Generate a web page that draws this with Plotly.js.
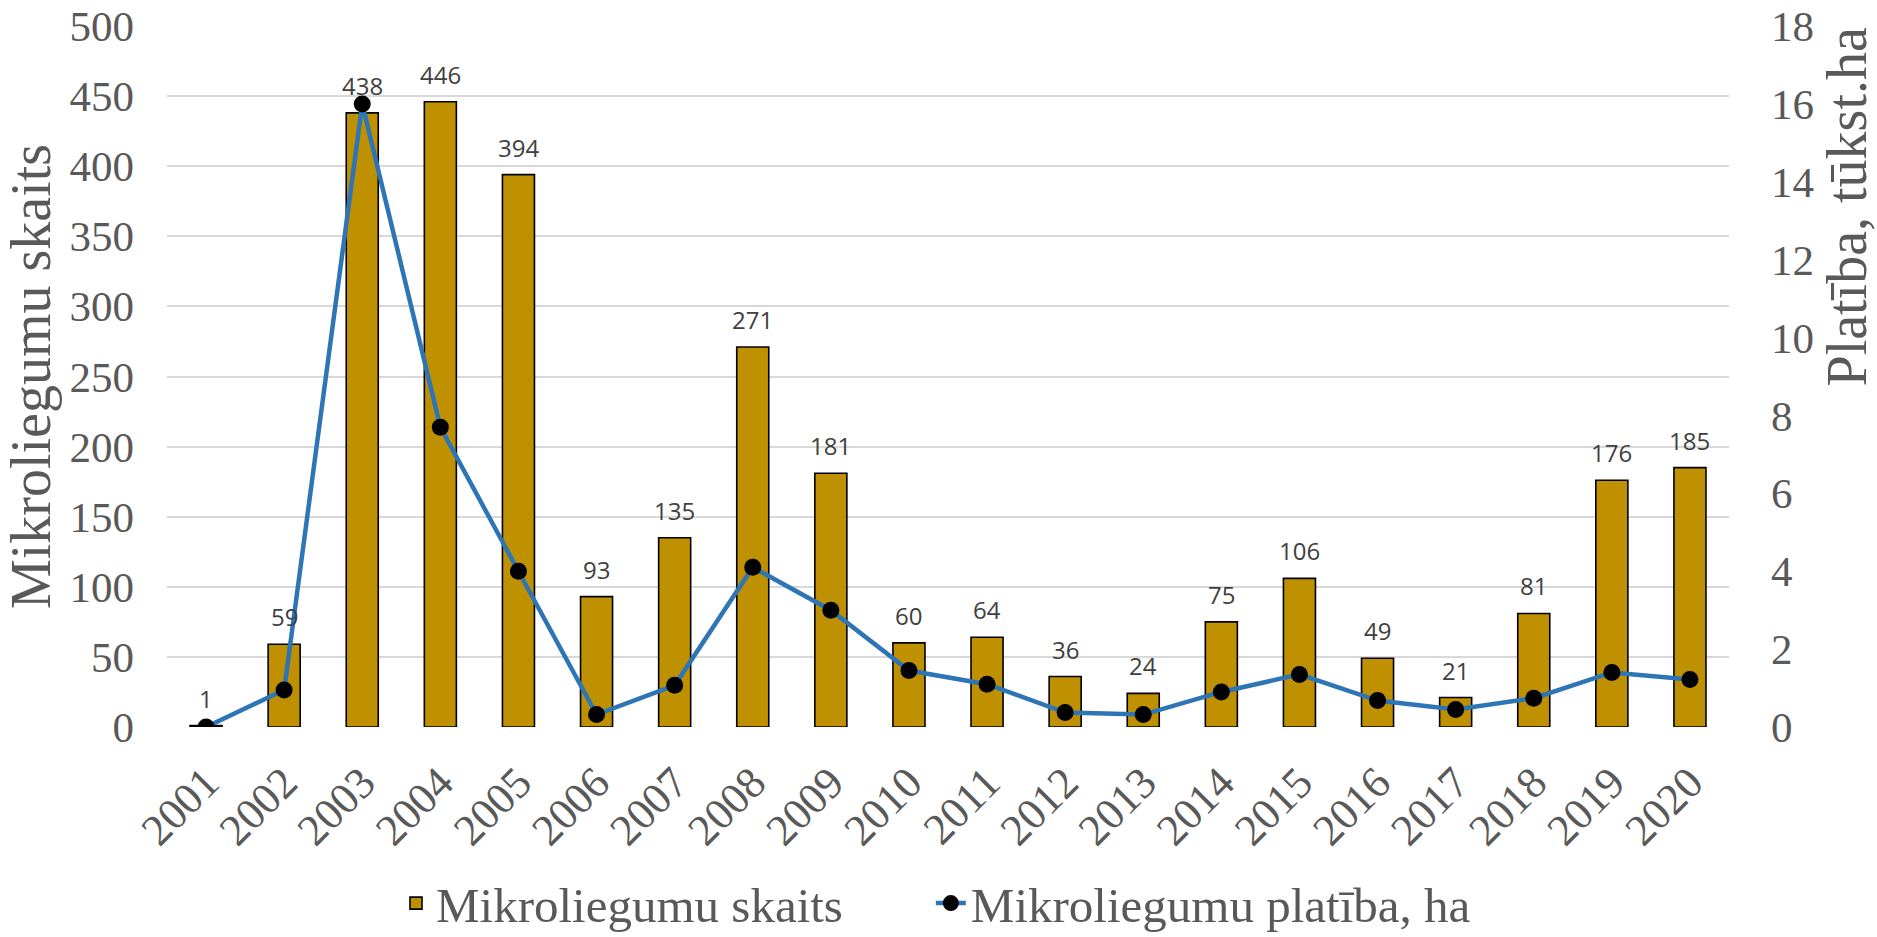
<!DOCTYPE html>
<html>
<head>
<meta charset="utf-8">
<script src="https://cdn.plot.ly/plotly-3.0.1.min.js"></script>
<style>
html,body{margin:0;padding:0;background:#fff;}
#chart{width:1877px;height:937px;}
</style>
</head>
<body>
<div id="chart"></div>
<script>
const years = ["2001","2002","2003","2004","2005","2006","2007","2008","2009","2010","2011","2012","2013","2014","2015","2016","2017","2018","2019","2020"];
const counts = [1,59,438,446,394,93,135,271,181,60,64,36,24,75,106,49,21,81,176,185];
const areas = [0.0,0.95,16.0,7.7,4.0,0.32,1.07,4.1,3.0,1.45,1.1,0.37,0.32,0.9,1.35,0.68,0.45,0.74,1.4,1.22];

const seriesNames = ["Mikroliegumu skaits","Mikroliegumu platība, ha"];
const leftTitle = "Mikroliegumu skaits";
const rightTitle = "Platība, tūkst.ha";

const serif = "Liberation Serif, Times New Roman, serif";
const gray = "#595959";

const traces = [
  {
    type: "bar",
    name: seriesNames[0],
    x: years,
    y: counts,
    width: 0.41,
    marker: {color: "#BF9000", line: {color: "#000000", width: 1.6}},
    yaxis: "y",
    legend: "legend",
    hoverinfo: "x+y"
  },
  {
    type: "scatter",
    mode: "lines+markers",
    name: seriesNames[1],
    x: years,
    y: areas,
    yaxis: "y2",
    legend: "legend2",
    line: {color: "#2E75B6", width: 4.5},
    marker: {color: "#000000", size: 17},
    hoverinfo: "x+y"
  }
];

const labelAnnotations = years.map((yr, i) => ({
  x: i, y: counts[i], xref: "x", yref: "y",
  text: String(counts[i]), showarrow: false,
  yanchor: "bottom", yshift: 9,
  font: {family: "Open Sans, sans-serif", size: 24, color: "#404040"}
}));

const legendFont = {family: serif, size: 49, color: gray};

const layout = {
  width: 1877, height: 937,
  paper_bgcolor: "#ffffff", plot_bgcolor: "#ffffff",
  margin: {l: 167, r: 148, t: 26, b: 210},
  showlegend: true,
  xaxis: {
    type: "category",
    range: [-0.5, years.length - 0.5],
    autorange: false,
    automargin: false,
    tickangle: -45,
    tickfont: {family: serif, size: 44, color: gray},
    ticks: "",
    showgrid: false,
    showline: false,
    zeroline: false,
    ticklabelstandoff: 20
  },
  yaxis: {
    range: [0, 500],
    dtick: 50,
    automargin: false,
    tickfont: {family: serif, size: 43, color: gray},
    showgrid: true,
    gridcolor: "#D9D9D9",
    gridwidth: 1.5,
    zeroline: false,
    showline: false,
    ticks: "",
    ticklabelstandoff: 32,
    title: {text: leftTitle, font: {family: serif, size: 56, color: gray}, standoff: 6}
  },
  yaxis2: {
    range: [0, 18],
    dtick: 2,
    overlaying: "y",
    side: "right",
    automargin: false,
    tickfont: {family: serif, size: 43, color: gray},
    showgrid: false,
    zeroline: false,
    showline: false,
    ticks: "",
    ticklabelstandoff: 41
  },
  legend: {
    orientation: "h",
    xref: "paper", x: 0.1466, xanchor: "left",
    yref: "container", y: 0.036, yanchor: "middle",
    font: legendFont
  },
  legend2: {
    orientation: "h",
    xref: "paper", x: 0.489, xanchor: "left",
    yref: "container", y: 0.036, yanchor: "middle",
    font: legendFont
  },
  annotations: labelAnnotations.concat([{
    xref: "paper", yref: "paper", x: 1, y: 1,
    xanchor: "center", yanchor: "top", xshift: 117,
    textangle: -90, showarrow: false,
    text: rightTitle,
    font: {family: serif, size: 56, color: gray}
  }])
};

Plotly.newPlot("chart", traces, layout, {displayModeBar: false, responsive: false});
</script>
</body>
</html>
